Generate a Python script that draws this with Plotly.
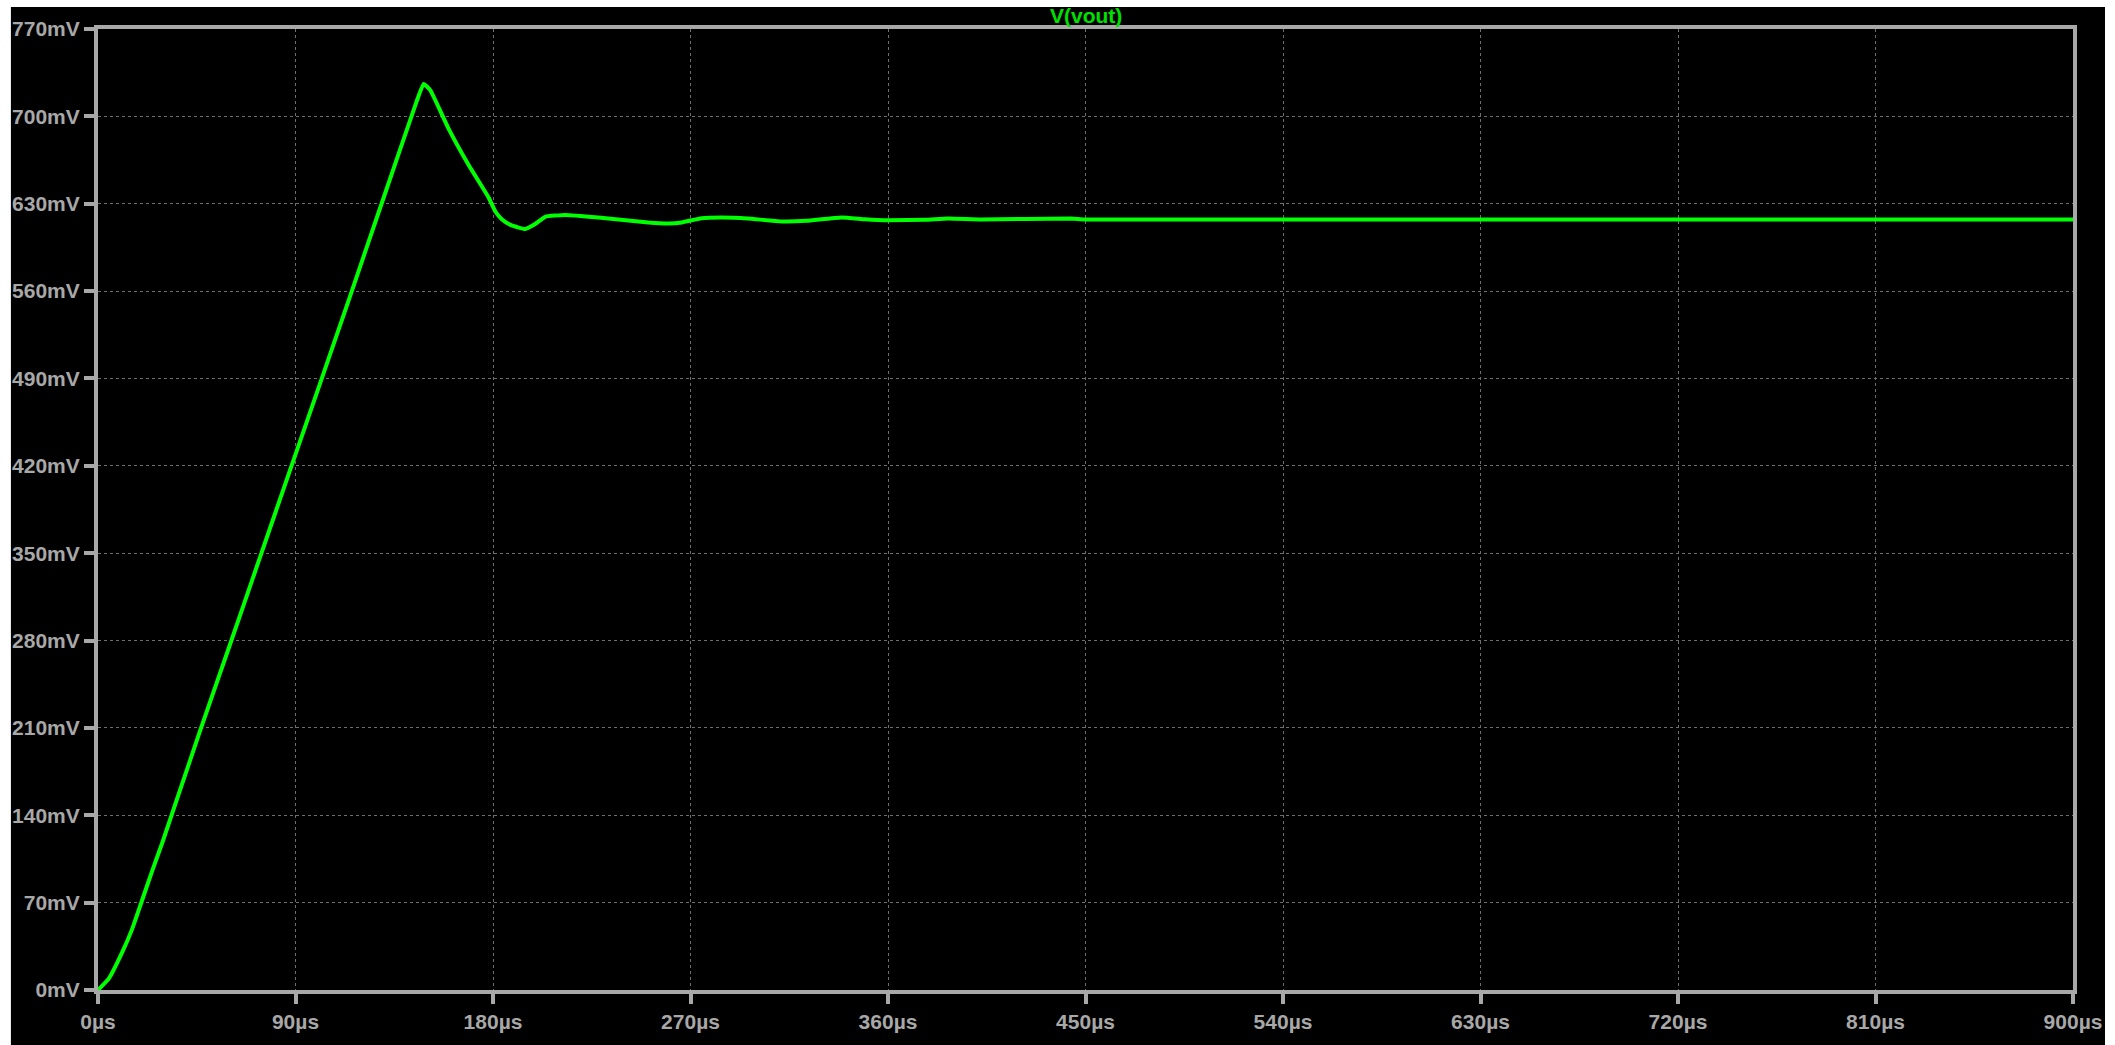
import plotly.graph_objects as go

# Time (µs) and V(vout) (mV)
time_us = [0, 5, 11.1, 15.6, 19.4, 24.7, 29.3, 46.0, 59.6, 73.3, 87.4, 101.4,
           114.3, 130, 145, 148.4, 151.4, 159.8, 168.9, 178, 181, 184, 188, 194.7, 199.2,
           203.8, 212.9, 228, 250.8, 260, 266, 275, 284.2, 296, 311.5, 322.7, 338.8, 349.5,
           360, 376.8, 387.4, 402.5, 443.5, 449.6, 500, 600, 700, 800, 900]
vout_mv = [0, 9.3, 30.5, 49, 68.3, 95.5, 118, 205, 274, 344, 416, 487,
           553, 634, 711, 726, 721, 690, 661, 635, 624, 617.6, 613, 609.7, 613.7,
           619.5, 621, 619, 615, 614.2, 615, 618.4, 619, 618.2, 615.8, 616.3, 619, 617.6,
           616.8, 617.1, 618.2, 617.4, 618.2, 617.4, 617.3, 617.3, 617.3, 617.3, 617.3]

x_tickvals = [0, 90, 180, 270, 360, 450, 540, 630, 720, 810, 900]
x_ticktext = ["0µs", "90µs", "180µs", "270µs", "360µs", "450µs", "540µs", "630µs", "720µs", "810µs", "900µs"]
y_tickvals = [0, 70, 140, 210, 280, 350, 420, 490, 560, 630, 700, 770]
y_ticktext = ["0mV", "70mV", "140mV", "210mV", "280mV", "350mV", "420mV", "490mV", "560mV", "630mV", "700mV", "770mV"]

AX = "#a8a8a8"
GRID = "#6e6e6e"

fig = go.Figure()
fig.add_trace(go.Scatter(x=time_us, y=vout_mv, mode="lines",
                         line=dict(color="#00ff00", width=4, shape="spline", smoothing=0.4),
                         name="V(vout)", showlegend=False, hoverinfo="x+y"))

axis_common = dict(
    showline=True, linecolor=AX, linewidth=4, mirror=True,
    ticks="outside", ticklen=10, tickwidth=4, tickcolor=AX,
    showgrid=True, gridcolor=GRID, gridwidth=1, griddash="dot",
    zeroline=False,
    tickfont=dict(family="Liberation Sans, Arial", size=21, color=AX, weight="bold"),
)

fig.update_xaxes(range=[0, 900], tickvals=x_tickvals, ticktext=x_ticktext, **axis_common)
fig.update_yaxes(range=[0, 770], tickvals=y_tickvals, ticktext=y_ticktext, **axis_common)

fig.update_layout(
    width=2115, height=1045,
    margin=dict(l=98, r=42, t=29, b=42, pad=0),
    paper_bgcolor="white", plot_bgcolor="black",
    shapes=[dict(type="rect", xref="paper", yref="paper", layer="below",
                 x0=-0.0441, x1=1.0162, y0=-0.12, y1=1.0229,
                 fillcolor="black", line=dict(width=0))],
    annotations=[dict(text="V(vout)", xref="paper", yref="paper", x=0.5, y=1.0,
                      xanchor="center", yanchor="bottom", yshift=0, showarrow=False,
                      font=dict(family="Liberation Sans, Arial", size=21,
                                color="#00e000", weight="bold"))],
)

fig.write_html(
    "out.html",
    config={"displayModeBar": False},
    post_script=("document.body.style.margin='0';"
                 "document.body.style.background='black';"
                 "document.body.style.overflow='hidden';"
                 "document.documentElement.style.overflow='hidden';"),
)
